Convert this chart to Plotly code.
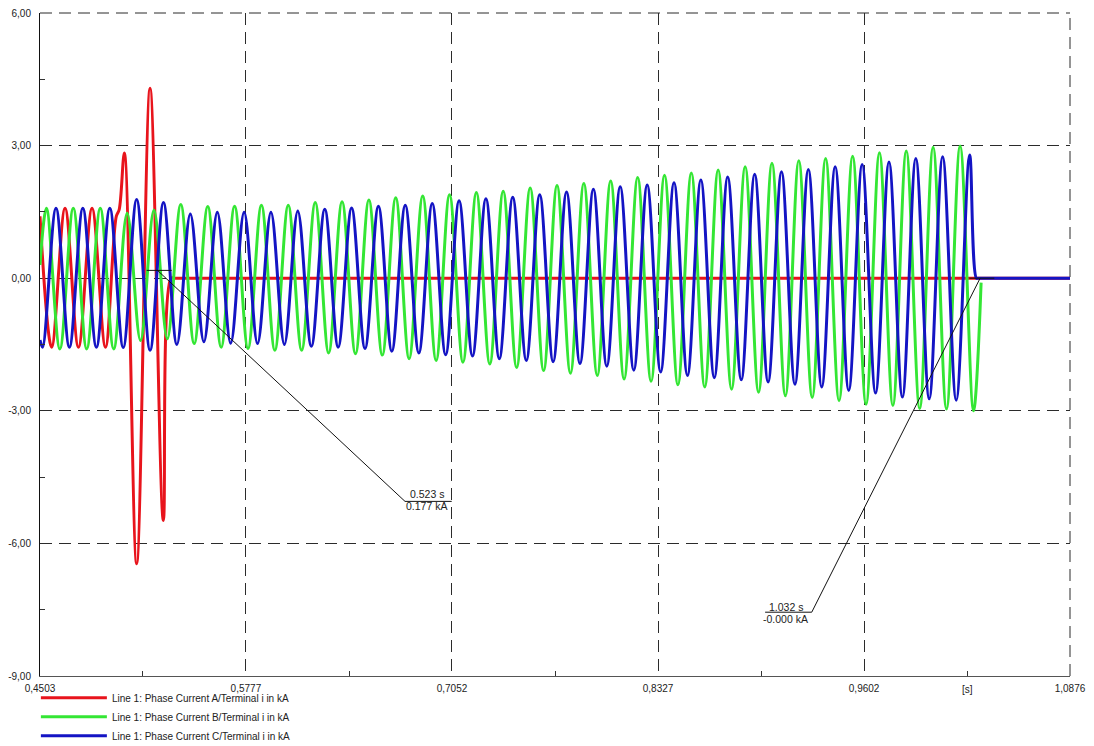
import plotly.graph_objects as go

# ---------------- axes ----------------
x_tick_vals = [0.4503, 0.5777, 0.7052, 0.8327, 0.9602, 1.0876]
x_tick_text = ["0,4503", "0,5777", "0,7052", "0,8327", "0,9602", "1,0876"]
x_minor_vals = [0.5140, 0.6415, 0.7690, 0.8965, 1.0239]
x_unit_pos = 1.0239
x_unit_text = "[s]"
y_tick_vals = [-9, -6, -3, 0, 3, 6]
y_tick_text = ["-9,00", "-6,00", "-3,00", "0,00", "3,00", "6,00"]
y_minor_vals = [-7.5, -4.5, -1.5, 1.5, 4.5]

series_names = [
    "Line 1: Phase Current A/Terminal i in kA",
    "Line 1: Phase Current B/Terminal i in kA",
    "Line 1: Phase Current C/Terminal i in kA",
]

# ---------------- phase A (red): turning points ----------------
red_t = [0.4503, 0.4575, 0.4658, 0.4741, 0.4825, 0.4908, 0.4975, 0.4993, 0.5025,
         0.5101, 0.5184, 0.5266, 0.5314, 0.5340, 1.0876]
red_kA = [1.40, -1.56, 1.58, -1.56, 1.58, -1.56, 1.40, 1.55, 2.83,
          -6.46, 4.30, -5.48, 0.00, 0.00, 0.00]

# ---------------- phase B (green) ----------------
green_start_t, green_start_kA = 0.4503, 0.30
green_peak_t = [0.4543, 0.4709, 0.4876, 0.5042, 0.5208, 0.5374, 0.5541, 0.5707, 0.5873, 0.6039,
                0.6206, 0.6372, 0.6538, 0.6704, 0.6871, 0.7037, 0.7203, 0.7369, 0.7536, 0.7702,
                0.7868, 0.8034, 0.8201, 0.8367, 0.8533, 0.8699, 0.8866, 0.9032, 0.9198, 0.9364,
                0.9531, 0.9697, 0.9863, 1.0029, 1.0196]
green_peak_kA = [1.58, 1.58, 1.58, 1.47, 1.54, 1.67, 1.62, 1.63, 1.65, 1.65,
                 1.71, 1.73, 1.77, 1.82, 1.86, 1.89, 1.94, 1.97, 2.04, 2.10,
                 2.14, 2.20, 2.28, 2.33, 2.38, 2.45, 2.52, 2.60, 2.66, 2.71,
                 2.76, 2.84, 2.88, 2.96, 2.99]
green_trough_t = [0.4626, 0.4792, 0.4959, 0.5125, 0.5291, 0.5457, 0.5624, 0.5790, 0.5956, 0.6122,
                  0.6289, 0.6455, 0.6621, 0.6787, 0.6954, 0.7120, 0.7286, 0.7452, 0.7619, 0.7785,
                  0.7951, 0.8117, 0.8284, 0.8450, 0.8616, 0.8782, 0.8949, 0.9115, 0.9281, 0.9447,
                  0.9614, 0.9780, 0.9946, 1.0112, 1.0279]
green_trough_kA = [-1.60, -1.60, -1.60, -1.41, -1.37, -1.48, -1.56, -1.59, -1.63, -1.63,
                   -1.69, -1.71, -1.74, -1.82, -1.86, -1.90, -1.94, -2.02, -2.09, -2.15,
                   -2.20, -2.28, -2.33, -2.41, -2.46, -2.51, -2.58, -2.66, -2.70, -2.77,
                   -2.85, -2.88, -2.95, -2.96, -3.00]
green_end_t, green_end_kA = 1.0326, -0.10

# ---------------- phase C (blue) ----------------
blue_start_t, blue_start_kA = 0.4503, -1.40
blue_peak_t = [0.4602, 0.4768, 0.4935, 0.5101, 0.5267, 0.5433, 0.5600, 0.5766, 0.5932, 0.6098,
               0.6265, 0.6431, 0.6597, 0.6763, 0.6930, 0.7096, 0.7262, 0.7428, 0.7595, 0.7761,
               0.7927, 0.8093, 0.8260, 0.8426, 0.8592, 0.8758, 0.8925, 0.9091, 0.9257, 0.9423,
               0.9590, 0.9756, 0.9922, 1.0088, 1.0255]
blue_peak_kA = [1.58, 1.58, 1.58, 1.78, 1.71, 1.45, 1.49, 1.49, 1.49, 1.52,
                1.56, 1.59, 1.63, 1.65, 1.69, 1.75, 1.80, 1.83, 1.89, 1.95,
                2.01, 2.07, 2.11, 2.16, 2.22, 2.29, 2.35, 2.41, 2.46, 2.52,
                2.57, 2.63, 2.71, 2.75, 2.79]
blue_trough_t = [0.4519, 0.4685, 0.4852, 0.5018, 0.5184, 0.5350, 0.5517, 0.5683, 0.5849, 0.6015,
                 0.6182, 0.6348, 0.6514, 0.6680, 0.6847, 0.7013, 0.7179, 0.7345, 0.7512, 0.7678,
                 0.7844, 0.8010, 0.8177, 0.8343, 0.8509, 0.8675, 0.8842, 0.9008, 0.9174, 0.9340,
                 0.9507, 0.9673, 0.9839, 1.0005, 1.0172]
blue_trough_kA = [-1.56, -1.56, -1.56, -1.57, -1.63, -1.50, -1.44, -1.47, -1.48, -1.50,
                  -1.54, -1.56, -1.59, -1.65, -1.69, -1.73, -1.76, -1.82, -1.86, -1.89,
                  -1.93, -1.99, -2.08, -2.12, -2.20, -2.25, -2.30, -2.35, -2.40, -2.46,
                  -2.54, -2.60, -2.69, -2.73, -2.76]
blue_tail_t = [1.0297, 1.0310, 1.0876]
blue_tail_kA = [0.00, 0.00, 0.00]

# ---------------- cursor read-outs ----------------
cursor_t = [0.523, 1.032]
cursor_kA = [0.177, -0.000]
cursor_time_text = ["0.523 s", "1.032 s"]
cursor_value_text = ["0.177 kA", "-0.000 kA"]


def merge(*parts):
    pts = []
    for ts, vs in parts:
        pts.extend(zip(ts, vs))
    pts.sort(key=lambda p: p[0])
    return [p[0] for p in pts], [p[1] for p in pts]


green_x, green_y = merge(([green_start_t], [green_start_kA]),
                         (green_peak_t, green_peak_kA),
                         (green_trough_t, green_trough_kA),
                         ([green_end_t], [green_end_kA]))
blue_x, blue_y = merge(([blue_start_t], [blue_start_kA]),
                       (blue_peak_t, blue_peak_kA),
                       (blue_trough_t, blue_trough_kA),
                       (blue_tail_t, blue_tail_kA))

FONT = "Liberation Sans, Arial, sans-serif"
GRID = "#2b2b2b"
DASH = "12px,7px"

fig = go.Figure()
for name, xs, ys, col in [
    (series_names[0], red_t, red_kA, "#e8141c"),
    (series_names[1], green_x, green_y, "#34e634"),
    (series_names[2], blue_x, blue_y, "#1414c4"),
]:
    fig.add_trace(go.Scatter(x=xs, y=ys, mode="lines", name=name,
                             line=dict(color=col, width=3, shape="spline", smoothing=1.0)))

axis_common = dict(
    showgrid=True, gridcolor=GRID, gridwidth=1, griddash=DASH,
    zeroline=False, ticks="", showline=True, linewidth=1, automargin=False,
    tickfont=dict(family=FONT, size=10, color="#222"),
)
fig.update_xaxes(range=[x_tick_vals[0], x_tick_vals[-1]], tickmode="array",
                 tickvals=x_tick_vals, ticktext=x_tick_text, linecolor="#555",
                 ticklabelstandoff=3,
                 minor=dict(tickmode="array", tickvals=x_minor_vals, ticks="inside",
                            ticklen=5, tickcolor="#333", tickwidth=1, showgrid=False),
                 **axis_common)
fig.update_yaxes(range=[y_tick_vals[0], y_tick_vals[-1]], tickmode="array",
                 tickvals=y_tick_vals, ticktext=y_tick_text, linecolor="#111",
                 ticklabelstandoff=6,
                 minor=dict(tickmode="array", tickvals=y_minor_vals, ticks="inside",
                            ticklen=5, tickcolor="#333", tickwidth=1, showgrid=False),
                 **axis_common)

shapes = [
    # dashed frame lines at the top (6,00) and right (1,0876) grid positions
    dict(type="line", xref="paper", yref="paper", x0=0, x1=1, y0=1, y1=1,
         line=dict(color=GRID, width=1, dash=DASH), layer="below"),
    dict(type="line", xref="paper", yref="paper", x0=1, x1=1, y0=0, y1=1,
         line=dict(color=GRID, width=1, dash=DASH), layer="below"),
]
annotations = []
# cursor 1 : leader goes down-right, text right of it
# cursor 2 : leader goes down-left, text left of it
leader = [dict(dx=247.5, dy=-231.0, u0=247.5, u1=294.2, tx=269.0, ty1=-224.0, ty2=-235.5),
          dict(dx=-168.4, dy=-334.0, u0=-215.0, u1=-168.4, tx=-194.6, ty1=-328.3, ty2=-340.3)]
for i in range(2):
    L = leader[i]
    base = dict(type="line", xref="x", yref="y", xsizemode="pixel", ysizemode="pixel",
                xanchor=cursor_t[i], yanchor=cursor_kA[i], line=dict(color="#111", width=1))
    shapes.append(dict(base, x0=-10.8, x1=14.2, y0=0, y1=0))
    shapes.append(dict(base, x0=0, x1=L["dx"], y0=0, y1=L["dy"]))
    shapes.append(dict(base, x0=L["u0"], x1=L["u1"], y0=L["dy"], y1=L["dy"]))
    annotations.append(dict(x=cursor_t[i], y=cursor_kA[i], xref="x", yref="y",
                            text=cursor_time_text[i], showarrow=False,
                            xshift=L["tx"], yshift=L["ty1"],
                            font=dict(family=FONT, size=10.5, color="#222")))
    annotations.append(dict(x=cursor_t[i], y=cursor_kA[i], xref="x", yref="y",
                            text=cursor_value_text[i], showarrow=False,
                            xshift=L["tx"], yshift=L["ty2"],
                            font=dict(family=FONT, size=10.5, color="#222")))

annotations.append(dict(x=x_unit_pos, y=0, xref="x", yref="paper", yanchor="top",
                        yshift=-6, text=x_unit_text, showarrow=False,
                        font=dict(family=FONT, size=10, color="#222")))

fig.update_layout(
    width=1094, height=746,
    margin=dict(l=40, r=24, t=13, b=70, pad=0, autoexpand=False),
    paper_bgcolor="white", plot_bgcolor="white",
    showlegend=True,
    legend=dict(orientation="v", x=-0.004, xanchor="left", y=-0.011, yanchor="top",
                font=dict(family=FONT, size=10, color="#222"),
                itemwidth=66, tracegroupgap=0, bgcolor="rgba(0,0,0,0)"),
    shapes=shapes, annotations=annotations,
    font=dict(family=FONT),
)

fig.write_html("out.html", config={"displayModeBar": False},
               post_script="document.body.style.margin='0px';document.body.style.overflow='hidden';")
